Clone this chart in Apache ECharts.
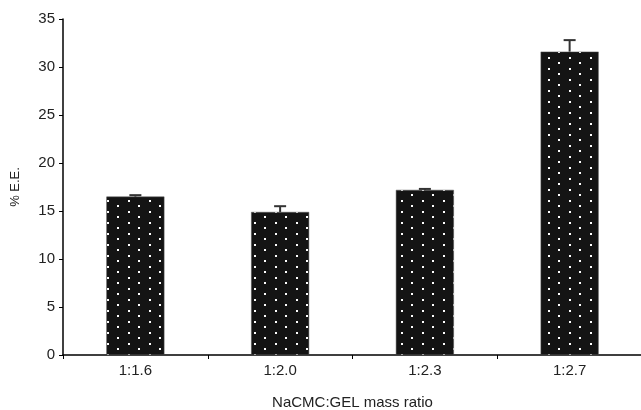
<!DOCTYPE html>
<html>
<head>
<meta charset="utf-8">
<script src="https://cdn.jsdelivr.net/npm/echarts@6/dist/echarts.min.js"></script>
<style>
  html, body { margin: 0; padding: 0; background: #fff; }
  #main { width: 641px; height: 410px; }
</style>
</head>
<body>
<div id="main"></div>
<script>
var categories = ['1:1.6', '1:2.0', '1:2.3', '1:2.7'];
var values = [16.5, 14.9, 17.2, 31.6];
var errors = [0.15, 0.6, 0.1, 1.2];

// dotted black fill like the original figure
function dotPattern() {
  var c = document.createElement('canvas');
  c.width = 21; c.height = 11;
  var ctx = c.getContext('2d');
  ctx.fillStyle = '#141414';
  ctx.fillRect(0, 0, 21, 11);
  ctx.fillStyle = '#ffffff';
  ctx.fillRect(2, 2, 2, 2);
  ctx.fillRect(12, 7, 2, 2);
  return c;
}

var chart = echarts.init(document.getElementById('main'));

var option = {
  animation: false,
  textStyle: { fontFamily: 'Liberation Sans, Arial, sans-serif' },
  grid: { left: 63, right: -1, top: 19, bottom: 55, outerBoundsMode: 'none', containLabel: false },
  xAxis: {
    type: 'category',
    data: categories,
    name: 'NaCMC:GEL mass ratio',
    nameLocation: 'middle',
    nameGap: 40,
    nameTextStyle: { fontSize: 15, color: '#222' },
    axisLine: { lineStyle: { color: '#000', width: 1.5 } },
    axisTick: { show: true, alignWithLabel: false, length: 4, lineStyle: { color: '#000' } },
    axisLabel: { fontSize: 15, color: '#222', margin: 8 }
  },
  yAxis: {
    type: 'value',
    min: 0,
    max: 35,
    interval: 5,
    name: '% E.E.',
    nameLocation: 'middle',
    nameGap: 41,
    nameTextStyle: { fontSize: 13, color: '#222' },
    splitLine: { show: false },
    axisLine: { show: true, lineStyle: { color: '#000', width: 1.5 } },
    axisTick: { show: true, length: 4, lineStyle: { color: '#000' } },
    axisLabel: { fontSize: 15, color: '#222', margin: 8 }
  },
  series: [
    {
      type: 'bar',
      data: values,
      barWidth: 58,
      itemStyle: {
        color: { image: dotPattern(), repeat: 'repeat' },
        borderColor: '#555',
        borderWidth: 0.5
      }
    },
    {
      type: 'custom',
      data: values.map(function (v, i) { return [i, v, errors[i]]; }),
      z: 5,
      renderItem: function (params, api) {
        var idx = api.value(0);
        var v = api.value(1);
        var e = api.value(2);
        var base = api.coord([idx, v]);
        var top = api.coord([idx, v + e]);
        var style = { stroke: '#333', lineWidth: 2 };
        return {
          type: 'group',
          children: [
            { type: 'line', shape: { x1: base[0], y1: base[1], x2: top[0], y2: top[1] }, style: style },
            { type: 'line', shape: { x1: top[0] - 6, y1: top[1], x2: top[0] + 6, y2: top[1] }, style: style }
          ]
        };
      }
    }
  ]
};

chart.setOption(option);
</script>
</body>
</html>
